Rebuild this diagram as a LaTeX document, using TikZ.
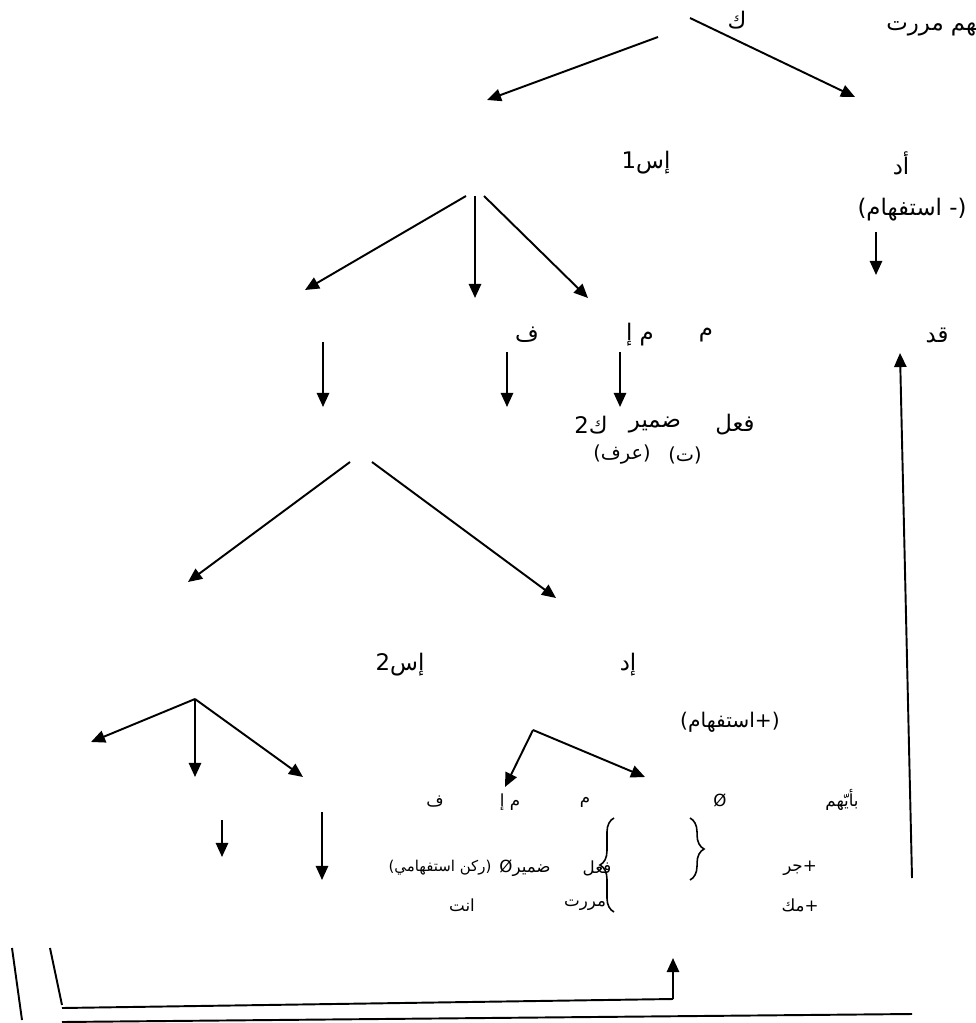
\documentclass[tikz,border=0pt]{standalone}
\usepackage{fontspec}
\usepackage{tikz}
\usetikzlibrary{arrows.meta, decorations.pathreplacing}
\newfontfamily\arabicfont[Script=Arabic]{DejaVu Sans}
\TeXXeTstate=1
\newcommand{\artxt}[1]{\beginR #1\endR}

\begin{document}
\begin{tikzpicture}[x=0.02cm, y=-0.02cm,
    lbl/.style={font=\arabicfont\fontsize{13}{15}\selectfont,
        inner sep=0pt},
    sml/.style={font=\arabicfont\fontsize{9.5}{11}\selectfont,
        inner sep=0pt},
    arr/.style={-{Triangle[length=8pt, width=7pt]},
        line width=1.1pt},
    ln/.style={line width=1.1pt},
    brc/.style={decorate, decoration={brace, amplitude=8pt},
        line width=0.9pt}
]
\useasboundingbox (0,0) rectangle (975,1023);

% top
\node[lbl] (kaf) at (737,20) {\artxt{ك}};
\node[lbl, anchor=west] (jumla) at (886,22) {\artxt{بأيّهم مررت}};
\coordinate (t1) at (658,37);
\coordinate (t2) at (690,18);
\coordinate (e1) at (487,100);
\coordinate (e2) at (855,97);
\draw[arr] (t1) -- (e1);
\draw[arr] (t2) -- (e2);

% level 1
\node[lbl] (is1) at (646,163) {1\artxt{إس}};
\node[lbl] (ad) at (901,163) {\artxt{أد}};
\node[lbl] (nfi) at (912,210) {\artxt{(- استفهام)}};
\coordinate (a1) at (876,232);
\coordinate (a2) at (876,275);
\draw[arr] (a1) -- (a2);

\coordinate (r1) at (466,196);
\coordinate (r2) at (475,196);
\coordinate (r3) at (484,196);
\coordinate (b1) at (305,290);
\coordinate (b2) at (475,298);
\coordinate (b3) at (588,298);
\draw[arr] (r1) -- (b1);
\draw[arr] (r2) -- (b2);
\draw[arr] (r3) -- (b3);

% level 2
\node[lbl] (fa) at (527,335) {\artxt{ف}};
\node[lbl] (mi) at (640,335) {\artxt{م إ}};
\node[lbl] (mim) at (706,335) {\artxt{م}};
\node[lbl] (qad) at (937,335) {\artxt{قد}};
\coordinate (d1) at (323,342);
\coordinate (d1e) at (323,407);
\coordinate (d2) at (507,352);
\coordinate (d2e) at (507,407);
\coordinate (d3) at (620,352);
\coordinate (d3e) at (620,407);
\draw[arr] (d1) -- (d1e);
\draw[arr] (d2) -- (d2e);
\draw[arr] (d3) -- (d3e);

\node[lbl] (k2) at (591,425) {2\artxt{ك}};
\node[lbl] (damir) at (655,425) {\artxt{ضمير}};
\node[lbl] (fil) at (735,425) {\artxt{فعل}};
\node[sml, font=\arabicfont\fontsize{11}{13}\selectfont] (arafa) at (622,455) {\artxt{(عرف)}};
\node[sml, font=\arabicfont\fontsize{11}{13}\selectfont] (ta) at (685,455) {\artxt{(ت)}};

\coordinate (s1) at (350,462);
\coordinate (s2) at (372,462);
\coordinate (f1) at (188,582);
\coordinate (f2) at (556,598);
\draw[arr] (s1) -- (f1);
\draw[arr] (s2) -- (f2);

% level 3
\node[lbl] (is2) at (400,665) {2\artxt{إس}};
\node[lbl] (id) at (628,665) {\artxt{إد}};
\node[sml, font=\arabicfont\fontsize{11.5}{13}\selectfont] (istf) at (730,722) {\artxt{(+استفهام)}};

\coordinate (p1) at (195,699);
\coordinate (g1) at (91,742);
\coordinate (g2) at (195,777);
\coordinate (g3) at (303,777);
\draw[arr] (p1) -- (g1);
\draw[arr] (p1) -- (g2);
\draw[arr] (p1) -- (g3);

\coordinate (p2) at (533,730);
\coordinate (h1) at (505,787);
\coordinate (h2) at (645,777);
\draw[arr] (p2) -- (h1);
\draw[arr] (p2) -- (h2);

% level 4
\node[sml] (fa2) at (435,802) {\artxt{ف}};
\node[sml] (mi2) at (510,802) {\artxt{م إ}};
\node[sml] (mim2) at (585,802) {\artxt{م}};
\node[sml] (zero) at (720,800) {Ø};
\node[sml] (biayy) at (842,800) {\artxt{بأيّهم}};

\draw[brc] (614,912) -- (614,818);
\draw[brc] (690,818) -- (690,880);

\node[sml, font=\arabicfont\fontsize{8.5}{10}\selectfont] (rukn) at (440,868) {\artxt{(ركن استفهامي)}};
\node[sml] (damir2) at (525,868) {Ø\artxt{ضمير}};
\node[sml] (fil2) at (597,868) {\artxt{فعل}};
\node[sml] (jarr) at (800,868) {\artxt{+جر}};

\coordinate (c1) at (222,820);
\coordinate (c1e) at (222,857);
\coordinate (c2) at (322,812);
\coordinate (c2e) at (322,880);
\draw[arr] (c1) -- (c1e);
\draw[arr] (c2) -- (c2e);

\node[sml] (anta) at (462,905) {\artxt{انت}};
\node[sml] (marar) at (585,905) {\artxt{مررت}};
\node[sml] (mulk) at (800,905) {\artxt{+مك}};

% bottom lines
\coordinate (v1a) at (12,948);
\coordinate (v1b) at (22,1020);
\coordinate (v2a) at (50,948);
\coordinate (v2b) at (62,1005);
\coordinate (w1) at (62,1008);
\coordinate (w2) at (673,999);
\coordinate (w3) at (673,958);
\coordinate (u1) at (62,1022);
\coordinate (u2) at (912,1014);
\coordinate (q1) at (912,878);
\coordinate (q2) at (900,353);
\draw[ln] (v1a) -- (v1b);
\draw[ln] (v2a) -- (v2b);
\draw[ln] (w1) -- (w2);
\draw[arr] (w2) -- (w3);
\draw[ln] (u1) -- (u2);
\draw[arr] (q1) -- (q2);
\end{tikzpicture}
\end{document}
